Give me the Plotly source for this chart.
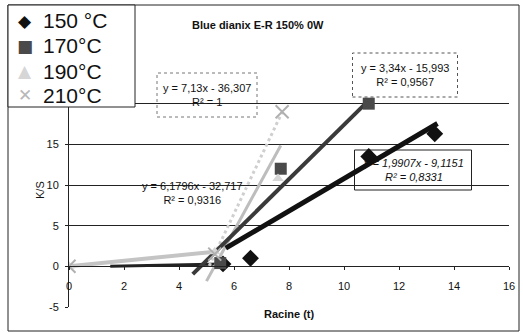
import plotly.graph_objects as go

# ---- data ----
series_names = ["150 °C", "170°C", "190°C", "210°C"]
x150 = [5.6, 6.6, 10.9, 13.3]
y150 = [0.3, 1.0, 13.5, 16.3]
x170 = [5.5, 7.7, 10.9]
y170 = [0.4, 12.0, 20.0]
x190 = [0.0, 5.3, 7.6]
y190 = [0.0, 1.8, 10.8]
x210 = [0.0, 5.3, 7.75]
y210 = [0.0, 1.5, 19.0]

# trendline coefficients (from the printed equations) and drawn x spans
slopes = [1.9907, 3.34, 6.1796, 7.13]
intercepts = [-9.1151, -15.993, -32.717, -36.307]
trend_x0 = [5.7, 4.5, 5.0, 5.1]
trend_x1 = [13.4, 10.9, 7.7, 7.75]
eq_texts = [
    "<i>y = 1,9907x - 9,1151</i><br><i>R² = 0,8331</i>",
    "y = 3,34x - 15,993<br>R² = 0,9567",
    "y = 6,1796x - 32,717<br>R² = 0,9316",
    "y = 7,13x - 36,307<br>R² = 1",
]
x_ticks = [0, 2, 4, 6, 8, 10, 12, 14, 16]
y_ticks = [-5, 0, 5, 10, 15, 20, 25]
y_ticklabels = ["-5", "0", "5", "10", "15", "", ""]  # 20 and 25 are hidden behind the legend

FONT = "Arial, Liberation Sans, sans-serif"
W, H = 523, 333
L, R, T, B = 69, 14, 63, 26
PW, PH = W - L - R, H - T - B


def px(xp):
    return (xp - L) / PW


def py(yp):
    return (H - B - yp) / PH


fig = go.Figure()

# faint connector bands near origin
fig.add_trace(go.Scatter(x=x190[:2], y=y190[:2], mode="lines",
                         line=dict(color="#c4c4c4", width=4), showlegend=False, hoverinfo="skip"))
fig.add_trace(go.Scatter(x=[1.5, x150[0]], y=[0.0, y150[0]], mode="lines",
                         line=dict(color="#222222", width=3), showlegend=False, hoverinfo="skip"))

trend_styles = [
    dict(color="#111111", width=5),
    dict(color="#3a3a3a", width=4),
    dict(color="#bdbdbd", width=3),
    dict(color="#cfcfcf", width=3, dash="dot"),
]
order = [2, 3, 1, 0]
for i in order:
    xs = [trend_x0[i], trend_x1[i]]
    ys = [slopes[i] * v + intercepts[i] for v in xs]
    fig.add_trace(go.Scatter(x=xs, y=ys, mode="lines", line=trend_styles[i],
                             showlegend=False, hoverinfo="skip"))

marker_styles = [
    dict(symbol="diamond", size=13, color="#111111"),
    dict(symbol="square", size=12, color="#4a4a4a"),
    dict(symbol="triangle-up", size=10, color="#d6d6d6"),
    dict(symbol="x-thin", size=13, color="#bdbdbd", line=dict(color="#b0b0b0", width=2)),
]
for name, xs, ys, ms in zip(series_names, [x150, x170, x190, x210],
                            [y150, y170, y190, y210], marker_styles):
    fig.add_trace(go.Scatter(x=xs, y=ys, mode="markers", name=name, marker=ms,
                             showlegend=False))

# equation boxes: (center x px, center y px, border dash, border color)
boxes = [
    (413, 170, "solid", "#222222"),
    (405, 75, "dot", "#555555"),
    (192, 193, "dot", "#bbbbbb"),
    (207, 95, "dot", "#777777"),
]
annotations = []
shapes = []
for i, (cx, cy, dash, bc) in enumerate(boxes):
    annotations.append(dict(x=px(cx), y=py(cy), xref="paper", yref="paper", text=eq_texts[i],
                            xanchor="center", yanchor="middle",
                            showarrow=False, font=dict(family=FONT, size=11, color="#111111"),
                            align="center", bgcolor="rgba(0,0,0,0)"))
bw = [117, 105, 120, 100]
bh = [40, 44, 42, 44]
for i, (cx, cy, dash, bc) in enumerate(boxes):
    if i == 2:
        continue
    shapes.append(dict(type="rect", xref="paper", yref="paper",
                       x0=px(cx - bw[i] / 2), x1=px(cx + bw[i] / 2),
                       y0=py(cy + bh[i] / 2), y1=py(cy - bh[i] / 2),
                       line=dict(color=bc, width=1, dash=dash), layer="below"))

# chart outer border
shapes.append(dict(type="rect", xref="paper", yref="paper",
                   x0=px(8), x1=px(519), y0=py(331), y1=py(5),
                   line=dict(color="#222222", width=1)))

# custom legend box (large font, tight rows as in the reference)
shapes.append(dict(type="rect", xref="paper", yref="paper",
                   x0=px(8), x1=px(135), y0=py(107), y1=py(5),
                   line=dict(color="#222222", width=1), fillcolor="white", layer="above"))
legend_rows = [21, 46, 71, 95]
legend_glyphs = ["◆", "■", "▲", "✕"]
legend_glyph_colors = ["#111111", "#4a4a4a", "#d6d6d6", "#b8b8b8"]
for name, ry, g, gc in zip(series_names, legend_rows, legend_glyphs, legend_glyph_colors):
    annotations.append(dict(x=px(25), y=py(ry), xref="paper", yref="paper", text=g,
                            xanchor="center", yanchor="middle", showarrow=False,
                            font=dict(family="DejaVu Sans", size=17, color=gc)))
    annotations.append(dict(x=px(41), y=py(ry), xref="paper", yref="paper", text=name,
                            xanchor="left", yanchor="middle", showarrow=False,
                            font=dict(family=FONT, size=21, color="#111111")))

annotations += [
    dict(x=px(258), y=py(17), xref="paper", yref="paper", text="<b>Blue dianix E-R 150% 0W</b>",
         showarrow=False, font=dict(family=FONT, size=11, color="#111111")),
    dict(x=px(289), y=py(322), xref="paper", yref="paper", text="<b>Racine (t)</b>",
         showarrow=False, font=dict(family=FONT, size=11, color="#111111")),
    dict(x=px(32), y=py(190), xref="paper", yref="paper", text="K/S", textangle=-90,
         showarrow=False, font=dict(family=FONT, size=11, color="#111111")),
]

fig.update_layout(
    width=W, height=H,
    margin=dict(l=L, r=R, t=T, b=B, autoexpand=False),
    paper_bgcolor="white", plot_bgcolor="white",
    font=dict(family=FONT, size=11, color="#111111"),
    showlegend=False,
    xaxis=dict(range=[0, 16], tickvals=x_ticks, showgrid=False, zeroline=False,
               showline=True, linecolor="#222222", linewidth=1,
               ticks="outside", ticklen=3, tickcolor="#222222",
               anchor="free", position=5 / 30, ticklabelstandoff=6,
               tickfont=dict(family=FONT, size=11)),
    yaxis=dict(range=[-5, 25], tickvals=y_ticks, ticktext=y_ticklabels,
               showgrid=True, gridcolor="#222222",
               gridwidth=1, zeroline=False, showline=True, linecolor="#222222",
               ticks="outside", ticklen=3, tickcolor="#222222", ticklabelstandoff=4,
               tickfont=dict(family=FONT, size=11)),
    annotations=annotations,
    shapes=shapes,
)

fig.write_html("out.html", config={"displayModeBar": False},
               post_script="document.body.style.margin='0';")
